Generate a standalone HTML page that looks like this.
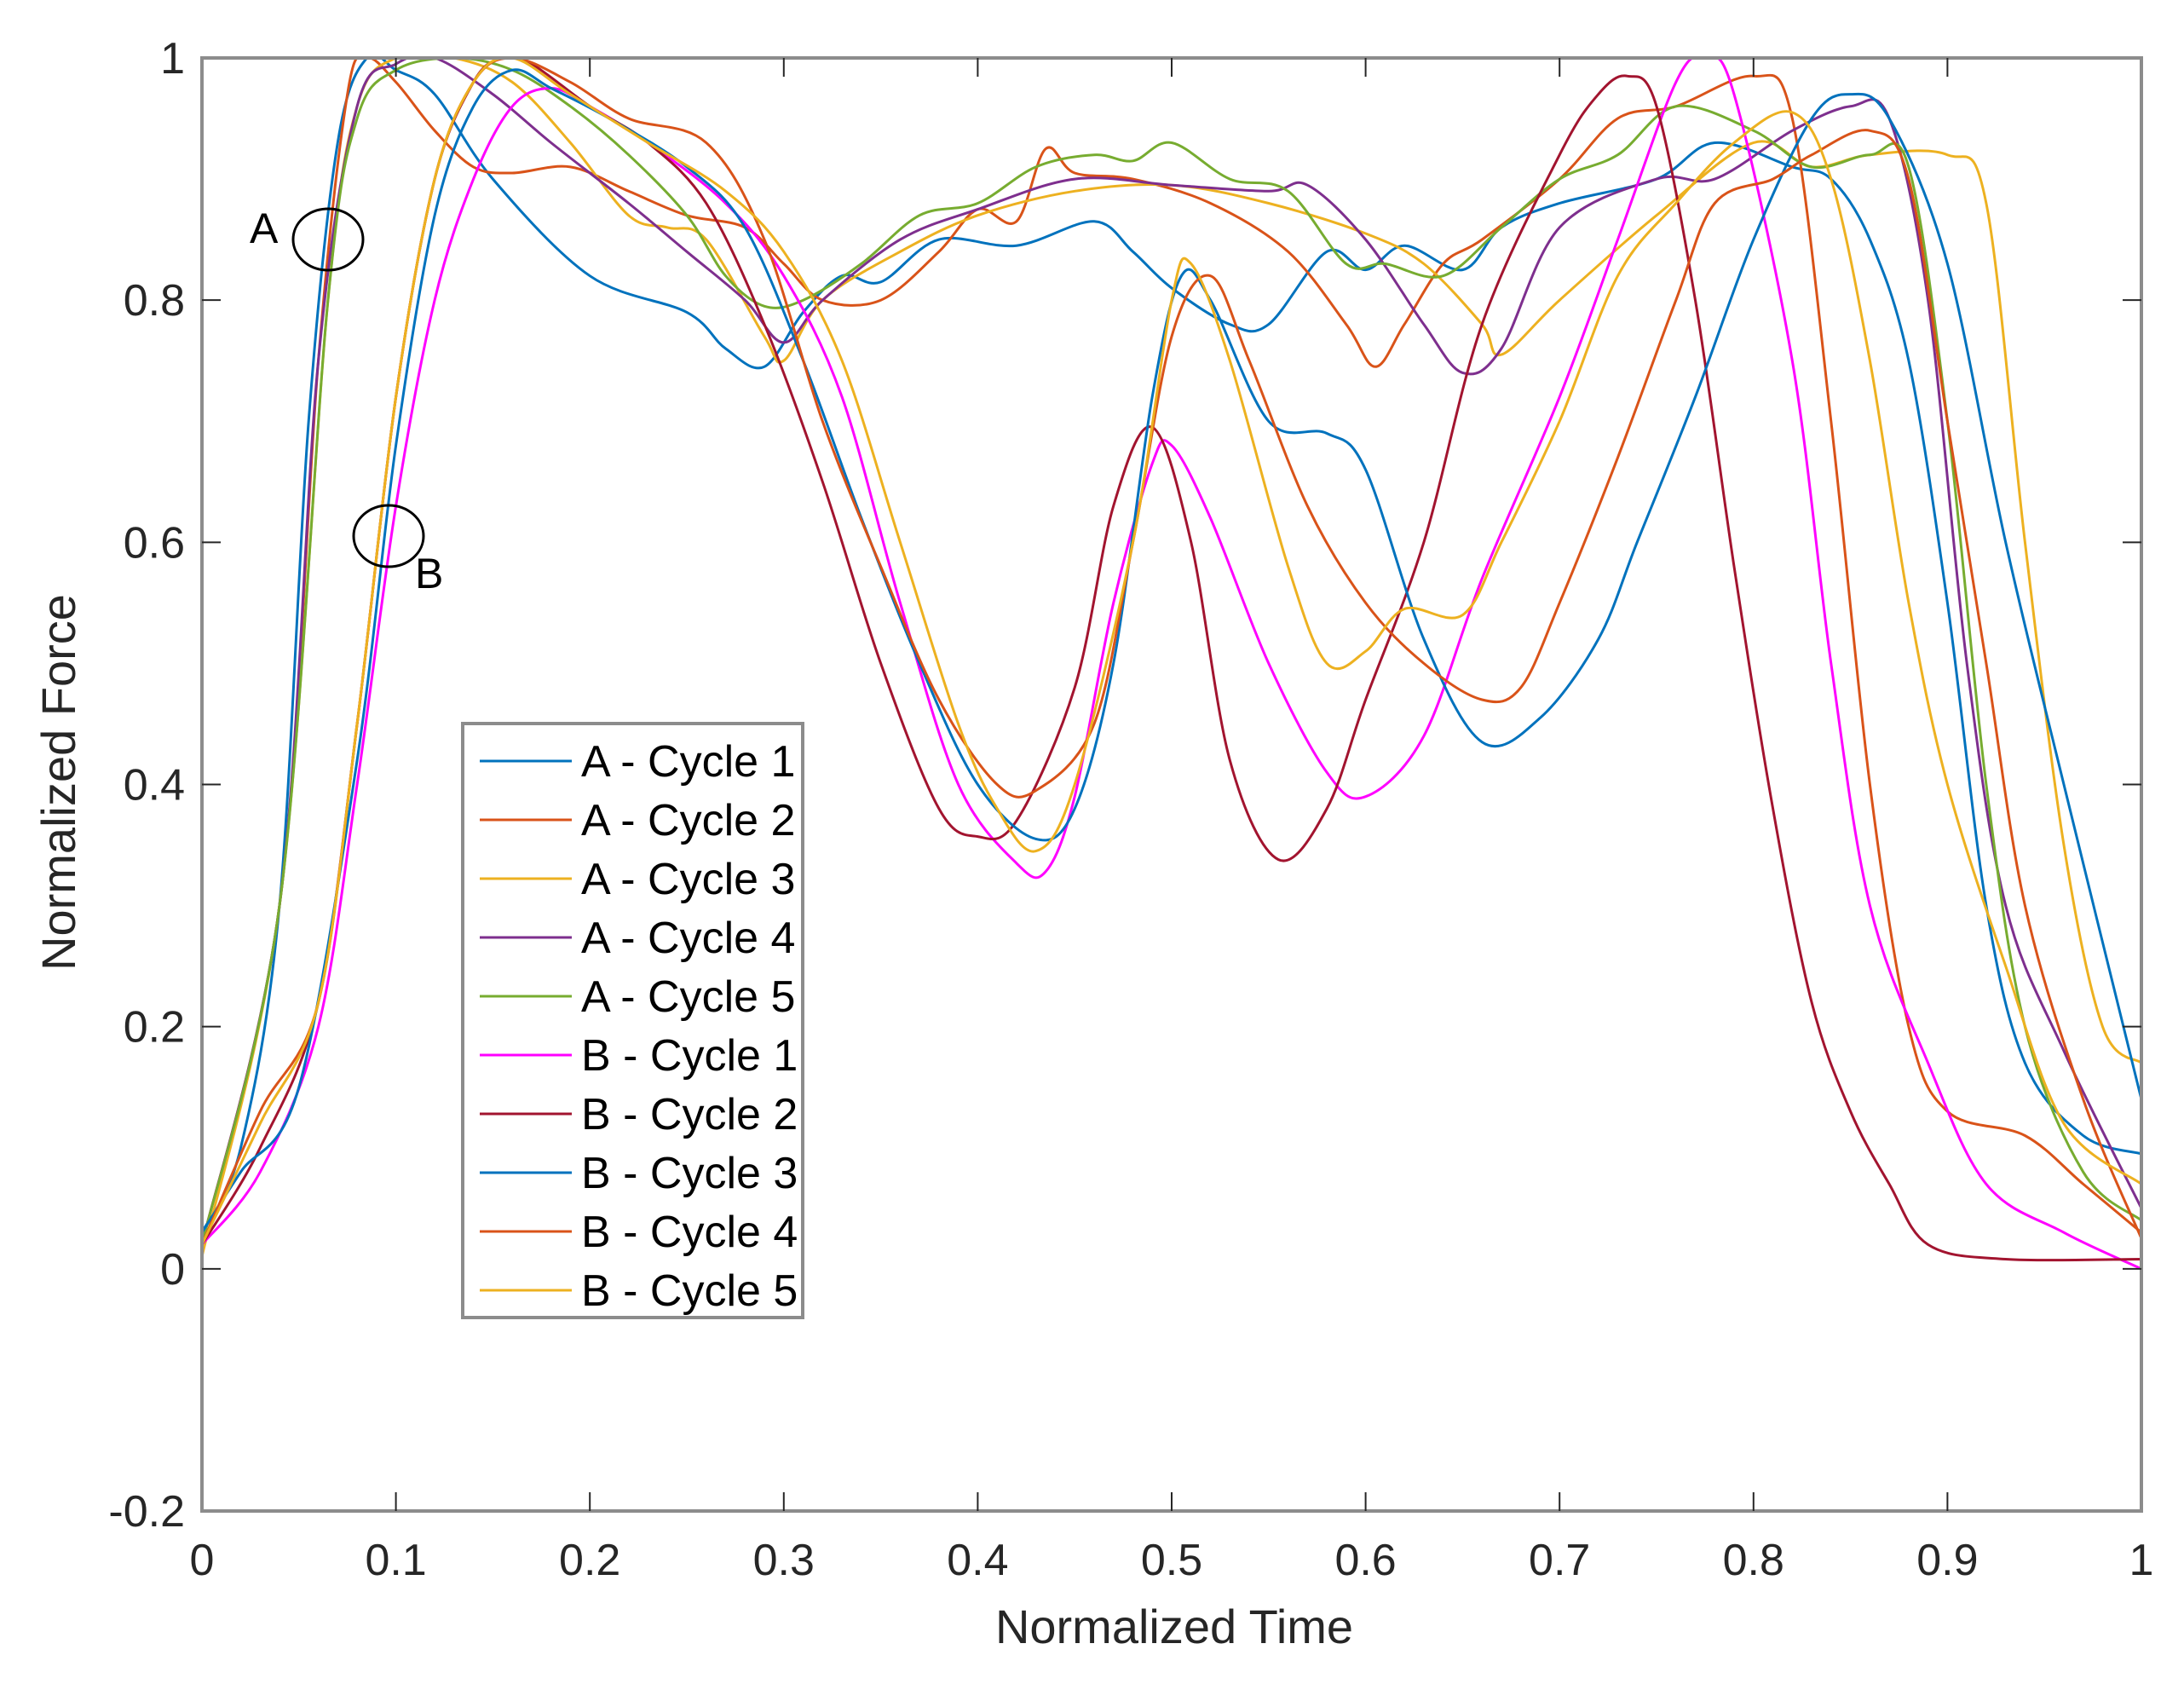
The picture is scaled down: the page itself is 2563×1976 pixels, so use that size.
<!DOCTYPE html>
<html><head><meta charset="utf-8"><style>
html,body{margin:0;padding:0;background:#fff;}
svg{display:block;font-family:"Liberation Sans",sans-serif;}
</style></head><body>
<svg id="chart" width="2563" height="1976" viewBox="0 0 2563 1976">
<rect x="0" y="0" width="2563" height="1976" fill="#fff"/>
<g id="plot"></g>
<g id="axes"></g>
<g id="annot">
<ellipse cx="385" cy="281" rx="41" ry="36" fill="none" stroke="#000" stroke-width="3"/>
<text x="293" y="285" font-size="50">A</text>
<ellipse cx="456" cy="629" rx="41" ry="36" fill="none" stroke="#000" stroke-width="3"/>
<text x="487" y="690" font-size="50">B</text>
</g>
<g id="legend"></g>
<text x="1378" y="1928" font-size="56" text-anchor="middle" fill="#262626">Normalized Time</text>
<text transform="translate(88,918) rotate(-90)" font-size="56" text-anchor="middle" fill="#262626">Normalized Force</text>
</svg>
<script>
const seriesNames = ["A - Cycle 1","A - Cycle 2","A - Cycle 3","A - Cycle 4","A - Cycle 5","B - Cycle 1","B - Cycle 2","B - Cycle 3","B - Cycle 4","B - Cycle 5"];
const seriesColors = ["#0072BD","#D95319","#EDB120","#7E2F8E","#77AC30","#FF00FF","#A2142F","#0072BD","#D95319","#EDB120"];
const xTicks = [0,0.1,0.2,0.3,0.4,0.5,0.6,0.7,0.8,0.9,1];
const xTickLabels = ["0","0.1","0.2","0.3","0.4","0.5","0.6","0.7","0.8","0.9","1"];
const yTicks = [-0.2,0,0.2,0.4,0.6,0.8,1];
const yTickLabels = ["-0.2","0","0.2","0.4","0.6","0.8","1"];
const a1x = [0,0.02,0.04,0.055,0.07,0.085,0.1,0.12,0.15,0.2,0.25,0.27,0.29,0.31,0.33,0.35,0.38,0.42,0.46,0.48,0.5,0.53,0.55,0.58,0.6,0.62,0.65,0.67,0.7,0.75,0.78,0.82,0.84,0.86,0.88,0.9,0.92,0.94,0.97,1];
const a1y = [0.03,0.1,0.3,0.7,0.93,1,0.99,0.97,0.9,0.82,0.79,0.76,0.745,0.79,0.82,0.815,0.85,0.845,0.865,0.84,0.81,0.78,0.78,0.84,0.825,0.845,0.825,0.86,0.88,0.9,0.93,0.91,0.9,0.85,0.75,0.55,0.3,0.17,0.11,0.095];
const a2x = [0,0.04,0.06,0.075,0.085,0.1,0.12,0.14,0.16,0.19,0.22,0.25,0.28,0.3,0.32,0.35,0.38,0.4,0.42,0.435,0.45,0.48,0.52,0.56,0.59,0.605,0.62,0.64,0.66,0.7,0.73,0.76,0.8,0.82,0.84,0.86,0.88,0.9,0.94,0.97,1];
const a2y = [0.02,0.3,0.75,0.97,1,0.98,0.94,0.91,0.905,0.91,0.89,0.87,0.86,0.83,0.8,0.8,0.84,0.875,0.865,0.925,0.905,0.9,0.88,0.84,0.78,0.745,0.78,0.83,0.85,0.9,0.95,0.96,0.985,0.95,0.7,0.4,0.2,0.13,0.11,0.07,0.03];
const a3x = [0,0.04,0.065,0.08,0.1,0.13,0.16,0.19,0.22,0.24,0.26,0.29,0.3,0.32,0.36,0.4,0.45,0.5,0.55,0.6,0.63,0.66,0.67,0.7,0.75,0.8,0.83,0.86,0.9,0.92,0.94,0.96,0.98,1];
const a3y = [0.01,0.3,0.8,0.96,1,1,0.98,0.93,0.87,0.86,0.85,0.77,0.75,0.8,0.84,0.87,0.89,0.895,0.88,0.855,0.83,0.78,0.755,0.8,0.87,0.93,0.91,0.92,0.92,0.88,0.6,0.35,0.2,0.17];
const a4x = [0,0.04,0.06,0.08,0.1,0.12,0.15,0.18,0.22,0.25,0.28,0.3,0.32,0.36,0.4,0.45,0.5,0.55,0.57,0.6,0.63,0.65,0.67,0.7,0.75,0.78,0.82,0.85,0.87,0.89,0.91,0.93,0.96,1];
const a4y = [0.02,0.3,0.75,0.96,0.995,1,0.97,0.93,0.88,0.84,0.8,0.765,0.8,0.85,0.875,0.9,0.895,0.89,0.895,0.85,0.78,0.74,0.76,0.86,0.9,0.9,0.94,0.96,0.95,0.8,0.5,0.3,0.18,0.05];
const a5x = [0,0.04,0.065,0.08,0.1,0.13,0.16,0.19,0.22,0.25,0.27,0.29,0.31,0.34,0.37,0.4,0.43,0.46,0.48,0.5,0.53,0.56,0.59,0.61,0.64,0.67,0.7,0.73,0.76,0.8,0.83,0.86,0.88,0.9,0.92,0.94,0.97,1];
const a5y = [0.02,0.3,0.8,0.95,0.99,1,0.99,0.96,0.92,0.87,0.82,0.795,0.8,0.83,0.87,0.88,0.91,0.92,0.915,0.93,0.9,0.89,0.83,0.83,0.82,0.86,0.9,0.92,0.96,0.94,0.91,0.92,0.91,0.7,0.4,0.2,0.08,0.04];
const b1x = [0,0.03,0.06,0.08,0.1,0.12,0.14,0.16,0.18,0.2,0.23,0.27,0.3,0.33,0.36,0.39,0.42,0.435,0.45,0.47,0.49,0.5,0.52,0.55,0.58,0.6,0.63,0.66,0.7,0.73,0.76,0.775,0.79,0.82,0.84,0.86,0.89,0.92,0.96,1];
const b1y = [0.02,0.08,0.2,0.4,0.63,0.8,0.9,0.96,0.975,0.96,0.93,0.88,0.82,0.72,0.55,0.4,0.335,0.328,0.39,0.55,0.665,0.68,0.62,0.5,0.41,0.39,0.44,0.57,0.72,0.85,0.98,1,0.97,0.75,0.5,0.3,0.17,0.07,0.03,0];
const b2x = [0,0.03,0.06,0.08,0.1,0.12,0.14,0.155,0.17,0.2,0.23,0.26,0.29,0.32,0.35,0.38,0.4,0.42,0.45,0.47,0.49,0.51,0.53,0.555,0.58,0.6,0.63,0.66,0.7,0.72,0.735,0.75,0.77,0.79,0.81,0.83,0.85,0.87,0.89,0.93,1];
const b2y = [0.02,0.1,0.22,0.45,0.72,0.9,0.98,1,0.995,0.96,0.93,0.88,0.78,0.65,0.5,0.38,0.357,0.37,0.48,0.63,0.695,0.6,0.42,0.338,0.38,0.47,0.6,0.78,0.92,0.97,0.985,0.96,0.8,0.58,0.38,0.22,0.13,0.07,0.02,0.008,0.008];
const b3x = [0,0.02,0.05,0.08,0.1,0.12,0.14,0.16,0.18,0.21,0.25,0.28,0.31,0.34,0.37,0.4,0.43,0.45,0.47,0.49,0.505,0.52,0.55,0.58,0.6,0.63,0.66,0.69,0.72,0.74,0.77,0.8,0.83,0.85,0.87,0.9,0.93,0.96,1];
const b3y = [0.03,0.08,0.15,0.42,0.68,0.87,0.96,0.99,0.975,0.95,0.91,0.86,0.75,0.62,0.5,0.4,0.355,0.38,0.5,0.72,0.82,0.8,0.7,0.69,0.66,0.52,0.435,0.455,0.52,0.6,0.72,0.85,0.95,0.97,0.95,0.83,0.6,0.4,0.14];
const b4x = [0,0.03,0.06,0.08,0.1,0.12,0.14,0.16,0.19,0.22,0.26,0.29,0.32,0.35,0.38,0.41,0.43,0.46,0.48,0.5,0.52,0.54,0.57,0.6,0.63,0.66,0.68,0.7,0.73,0.76,0.78,0.81,0.83,0.86,0.88,0.9,0.92,0.94,0.97,1];
const b4y = [0.02,0.13,0.22,0.45,0.72,0.9,0.98,1,0.98,0.95,0.93,0.85,0.7,0.58,0.47,0.4,0.395,0.45,0.6,0.77,0.82,0.75,0.63,0.55,0.5,0.47,0.48,0.55,0.67,0.8,0.88,0.9,0.92,0.94,0.9,0.7,0.5,0.3,0.14,0.025];
const b5x = [0,0.03,0.06,0.08,0.1,0.12,0.14,0.16,0.19,0.23,0.27,0.3,0.33,0.36,0.39,0.41,0.43,0.45,0.48,0.5,0.51,0.53,0.56,0.58,0.6,0.62,0.65,0.67,0.7,0.73,0.76,0.79,0.82,0.84,0.86,0.88,0.9,0.93,0.96,1];
const b5y = [0.02,0.12,0.22,0.45,0.72,0.9,0.98,1,0.97,0.93,0.89,0.84,0.75,0.6,0.45,0.38,0.345,0.4,0.6,0.8,0.83,0.75,0.58,0.5,0.51,0.545,0.54,0.6,0.7,0.82,0.88,0.93,0.955,0.9,0.75,0.55,0.4,0.25,0.12,0.07];

const seriesX = [a1x,a2x,a3x,a4x,a5x,b1x,b2x,b3x,b4x,b5x];
const seriesY = [a1y,a2y,a3y,a4y,a5y,b1y,b2y,b3y,b4y,b5y];

const L=237,R=2513,T=68,B=1773,YMIN=-0.2,YMAX=1;
function sx(v){return L+(R-L)*v;}
function sy(v){return B-(B-T)*(v-YMIN)/(YMAX-YMIN);}
const NS="http://www.w3.org/2000/svg";
function mk(tag,attrs,parent){const e=document.createElementNS(NS,tag);for(const k in attrs)e.setAttribute(k,attrs[k]);parent.appendChild(e);return e;}
function smoothPath(xs,ys){
  const p=xs.map((x,i)=>[sx(x),sy(ys[i])]);
  let d="M"+p[0][0].toFixed(1)+","+p[0][1].toFixed(1);
  for(let i=0;i<p.length-1;i++){
    const p0=p[Math.max(0,i-1)],p1=p[i],p2=p[i+1],p3=p[Math.min(p.length-1,i+2)];
    const c1=[p1[0]+(p2[0]-p0[0])/6,p1[1]+(p2[1]-p0[1])/6];
    const c2=[p2[0]-(p3[0]-p1[0])/6,p2[1]-(p3[1]-p1[1])/6];
    d+=" C"+c1[0].toFixed(1)+","+c1[1].toFixed(1)+" "+c2[0].toFixed(1)+","+c2[1].toFixed(1)+" "+p2[0].toFixed(1)+","+p2[1].toFixed(1);
  }
  return d;
}
const plot=document.getElementById("plot");
const cp=mk("clipPath",{id:"clip"},plot);
mk("rect",{x:L,y:T,width:R-L,height:B-T},cp);
const lines=mk("g",{"clip-path":"url(#clip)"},plot);
for(let s=0;s<seriesX.length;s++){
  const path=mk("path",{d:smoothPath(seriesX[s],seriesY[s]),fill:"none",stroke:seriesColors[s],"stroke-width":3,"stroke-linejoin":"round"},lines);
  
  
}
const axes=document.getElementById("axes");
const frame=mk("rect",{x:L,y:T,width:R-L,height:B-T,fill:"none",stroke:"#8c8c8c","stroke-width":4},axes);


xTicks.forEach((v,i)=>{
  const x=sx(v);
  if(i>0&&i<xTicks.length-1){
    const t1=mk("line",{x1:x,x2:x,y1:B,y2:B-22,stroke:"#262626","stroke-width":2},axes);
    
    
    const t2=mk("line",{x1:x,x2:x,y1:T,y2:T+22,stroke:"#262626","stroke-width":2},axes);
    
    
  }
  const lb=mk("text",{x:x,y:B+75,"font-size":52,"text-anchor":"middle",fill:"#262626"},axes);
  lb.textContent=xTickLabels[i];
  
  
});
yTicks.forEach((v,i)=>{
  const y=sy(v);
  if(i>0&&i<yTicks.length-1){
    const t1=mk("line",{x1:L,x2:L+22,y1:y,y2:y,stroke:"#262626","stroke-width":2},axes);
    
    
    const t2=mk("line",{x1:R,x2:R-22,y1:y,y2:y,stroke:"#262626","stroke-width":2},axes);
    
    
  }
  const lb=mk("text",{x:L-20,y:y+18,"font-size":52,"text-anchor":"end",fill:"#262626"},axes);
  lb.textContent=yTickLabels[i];
  
  
});
const leg=document.getElementById("legend");
const lbox=mk("rect",{x:543,y:849,width:399,height:697,fill:"#fff",stroke:"#8c8c8c","stroke-width":4},leg);


seriesNames.forEach((n,i)=>{
  const y=893+i*69;
  const ln=mk("line",{x1:563,x2:671,y1:y,y2:y,stroke:seriesColors[i],"stroke-width":3},leg);
  
  
  const t=mk("text",{x:682,y:y+18,"font-size":52,fill:"#000"},leg);
  t.textContent=n;
  
  
});
</script>
</body></html>
